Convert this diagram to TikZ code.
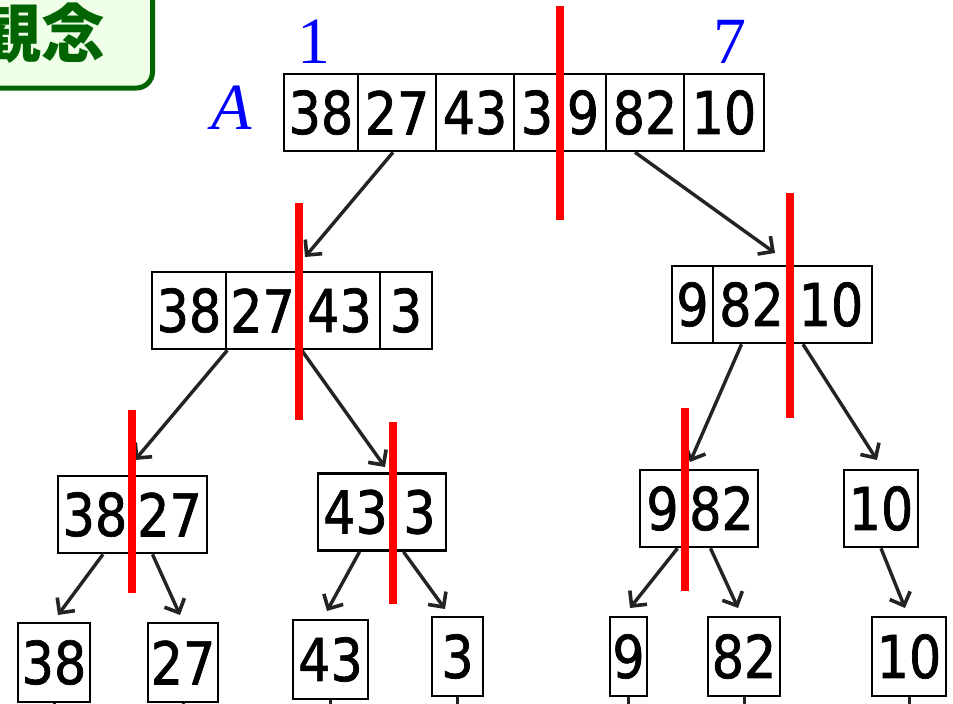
\documentclass[tikz,border=0pt]{standalone}
\usepackage{fontspec}
\usetikzlibrary{arrows.meta}
\newfontfamily\digfont[FakeStretch=0.86,FakeBold=1.2]{DejaVu Sans}
\newfontfamily\cjkfont{Noto Sans CJK JP}
\newfontfamily\lblfont{Liberation Serif}
\definecolor{kgreen}{RGB}{0,100,0}
\definecolor{kfill}{RGB}{240,255,232}
\definecolor{arrgray}{RGB}{35,35,35}
\tikzset{
  cell/.style={draw=black, line width=2.6pt, inner sep=0pt, minimum height=77pt,
    font=\fontsize{59}{60}\selectfont\digfont},
  leaf/.style={cell, minimum height=79pt},
  arr/.style={draw=arrgray, line width=3.4pt, -{Straight Barb[length=11pt,width=22pt,line width=3.6pt]}},
  stub/.style={draw=arrgray, line width=3pt},
  redline/.style={draw=red, line width=8pt},
  bluelabel/.style={text=blue, inner sep=0pt, font=\fontsize{66}{66}\selectfont\lblfont}
}
\begin{document}
\begin{tikzpicture}[x=1pt,y=-1pt]
\clip (0,0) rectangle (953,704);
\fill[white] (0,0) rectangle (953,704);
% title box
\draw[draw=kgreen, fill=kfill, line width=5pt, rounded corners=16pt] (-40,-40) rectangle (152.5,88);
\node[anchor=base east, inner sep=0pt, text=kgreen, font=\fontsize{64}{64}\selectfont\cjkfont\bfseries] (title) at (106,57) {観念};
% labels
\node[bluelabel, anchor=base] (l1) at (314,63) {1};
\node[bluelabel, anchor=base] (l7) at (730,63) {7};
\node[bluelabel, anchor=base] (lA) at (232,129) {\itshape A};
% level 1
\node[cell, minimum width=74pt] (a1) at (321,112.5) {38};
\node[cell, minimum width=78pt] (a2) at (397,112.5) {27};
\node[cell, minimum width=78pt] (a3) at (475,112.5) {43};
\node[cell, minimum width=46pt] (a4) at (537,112.5) {3};
\node[cell, minimum width=46pt] (a5) at (583,112.5) {9};
\node[cell, minimum width=78pt] (a6) at (645,112.5) {82};
\node[cell, minimum width=80pt] (a7) at (724,112.5) {10};
% level 2 left
\node[cell, minimum width=74pt] (b1) at (189,310.5) {38};
\node[cell, minimum width=73pt] (b2) at (262.5,310.5) {27};
\node[cell, minimum width=81pt] (b3) at (339.5,310.5) {43};
\node[cell, minimum width=52pt] (b4) at (406,310.5) {3};
% level 2 right
\node[cell, minimum width=41pt] (c1) at (692.5,304.5) {9};
\node[cell, minimum width=77pt] (c2) at (751.5,304.5) {82};
\node[cell, minimum width=82pt] (c3) at (831,304.5) {10};
% level 3
\node[cell, minimum width=74pt] (d1) at (95,514.5) {38};
\node[cell, minimum width=75pt] (d2) at (169.5,514.5) {27};
\node[cell, minimum width=75pt] (d3) at (355.5,512) {43};
\node[cell, minimum width=53pt] (d4) at (419.5,512) {3};
\node[cell, minimum width=45pt] (d5) at (662.5,508.5) {9};
\node[cell, minimum width=73pt] (d6) at (721.5,508.5) {82};
\node[cell, minimum width=74pt] (d7) at (881,508.5) {10};
% level 4
\node[leaf, minimum width=72pt] (e1) at (54,662.5) {38};
\node[leaf, minimum width=70pt] (e2) at (183,662.5) {27};
\node[leaf, minimum width=75pt] (e3) at (330.5,659.5) {43};
\node[leaf, minimum width=51pt] (e4) at (457.5,656.5) {3};
\node[leaf, minimum width=37pt] (e5) at (628.5,656.5) {9};
\node[leaf, minimum width=72pt] (e6) at (744,656.5) {82};
\node[leaf, minimum width=74pt] (e7) at (909,656.5) {10};
% arrow tips
\coordinate (t1) at (305,257);
\coordinate (t2) at (775,253);
\coordinate (t3) at (135,460);
\coordinate (t4) at (385,467);
\coordinate (t5) at (690,462);
\coordinate (t6) at (877,460);
\coordinate (t7) at (58,615);
\coordinate (t8) at (180,615);
\coordinate (t9) at (327,611);
\coordinate (t10) at (445,609);
\coordinate (t11) at (630,608);
\coordinate (t12) at (738,608);
\coordinate (t13) at (905,608);
% arrows
\draw[arr] ([xshift=-4pt]a2.south) -- (t1);
\draw[arr] ([xshift=-10pt]a6.south) -- (t2);
\draw[arr] (b1.south east) -- (t3);
\draw[arr] ([xshift=4pt]b3.south west) -- (t4);
\draw[arr] ([xshift=-10pt]c2.south) -- (t5);
\draw[arr] ([xshift=-28pt]c3.south) -- (t6);
\draw[arr] ([xshift=8pt]d1.south) -- (t7);
\draw[arr] ([xshift=-17pt]d2.south) -- (t8);
\draw[arr] ([xshift=4pt]d3.south) -- (t9);
\draw[arr] ([xshift=-16pt]d4.south) -- (t10);
\draw[arr] ([xshift=15pt]d5.south) -- (t11);
\draw[arr] ([xshift=-11pt]d6.south) -- (t12);
\draw[arr] (d7.south) -- (t13);
% stubs below leaves
\foreach \n in {e1,e2,e3,e4,e5,e6,e7} \draw[stub] (\n.south) -- ++(0,20);
% red split lines
\draw[redline] (560,6) -- (560,220);
\draw[redline] (299,203) -- (299,420);
\draw[redline] (790,193) -- (790,418);
\draw[redline] (131.7,410) -- (131.7,593);
\draw[redline] (393,422) -- (393,604);
\draw[redline] (685,408) -- (685,591);
\end{tikzpicture}
\end{document}
